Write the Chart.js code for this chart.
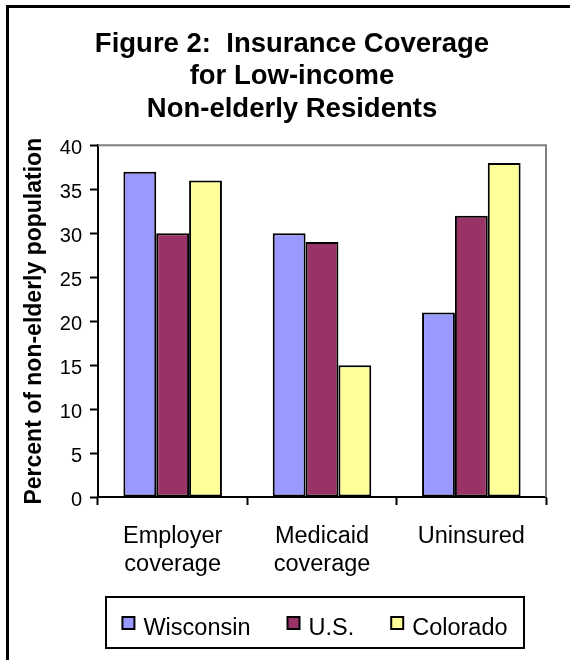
<!DOCTYPE html>
<html>
<head>
<meta charset="utf-8">
<script src="https://cdn.jsdelivr.net/npm/chart.js@4/dist/chart.umd.min.js"></script>
<style>
  html, body { margin: 0; padding: 0; background: #fff; overflow: hidden; }
  canvas { display: block; }
</style>
</head>
<body>
<canvas id="chart" width="570" height="660"></canvas>
<script>
// data
const categories = [['Employer', 'coverage'], ['Medicaid', 'coverage'], 'Uninsured'];
const seriesNames = ['Wisconsin', 'U.S.', 'Colorado'];
const wisconsin = [37, 30, 21];
const us = [30, 29, 32];
const colorado = [36, 15, 38];
const colors = ['#9999FF', '#993366', '#FFFF99'];
const titleLines = ['Figure 2:  Insurance Coverage', 'for Low-income', 'Non-elderly Residents'];

const FONT = 'Arial, "Liberation Sans", sans-serif';

// frame round the picture (only left/top show), gray top/right of plot, legend box
const framePlugin = {
    id: 'frame',
    beforeDraw(chart) {
        const ctx = chart.ctx;
        ctx.save();
        ctx.fillStyle = '#fff';
        ctx.fillRect(0, 0, chart.width, chart.height);
        ctx.strokeStyle = '#000';
        ctx.lineWidth = 3;
        ctx.beginPath();
        ctx.moveTo(7.5, chart.height + 5);
        ctx.lineTo(7.5, 6.5);
        ctx.lineTo(chart.width + 5, 6.5);
        ctx.stroke();
        ctx.restore();
    },
    afterDatasetsDraw(chart) {
        const {ctx, chartArea} = chart;
        ctx.save();
        ctx.strokeStyle = '#808080';
        ctx.lineWidth = 2;
        ctx.beginPath();
        ctx.moveTo(chartArea.left, chartArea.top);
        ctx.lineTo(chartArea.right, chartArea.top);
        ctx.lineTo(chartArea.right, chartArea.bottom);
        ctx.stroke();
        ctx.restore();
    },
    afterDraw(chart) {
        // legend in a box under the plot
        const ctx = chart.ctx;
        const box = {x: 106, y: 597, w: 418, h: 51};
        ctx.save();
        ctx.strokeStyle = '#000';
        ctx.lineWidth = 2;
        ctx.strokeRect(box.x, box.y, box.w, box.h);
        ctx.font = '23.5px ' + FONT;
        ctx.textBaseline = 'alphabetic';
        const sq = 12, gap = 9, spacing = 37;
        const widths = chart.data.datasets.map(d => sq + gap + ctx.measureText(d.label).width);
        const total = widths.reduce((a, b) => a + b, 0) + spacing * (widths.length - 1);
        let x = box.x + (box.w - total) / 2;
        chart.data.datasets.forEach((d, i) => {
            ctx.fillStyle = d.backgroundColor;
            ctx.fillRect(x, 617, sq, sq);
            ctx.strokeStyle = '#000';
            ctx.lineWidth = 2;
            ctx.strokeRect(x, 617, sq, sq);
            ctx.fillStyle = '#000';
            ctx.fillText(d.label, x + sq + gap, 634.5);
            x += widths[i] + spacing;
        });
        ctx.restore();
    }
};

new Chart(document.getElementById('chart'), {
    type: 'bar',
    data: {
        labels: categories,
        datasets: [
            {label: seriesNames[0], data: wisconsin, backgroundColor: colors[0]},
            {label: seriesNames[1], data: us, backgroundColor: colors[1]},
            {label: seriesNames[2], data: colorado, backgroundColor: colors[2]},
        ].map(d => Object.assign(d, {
            borderColor: '#000',
            borderWidth: 2,
            borderSkipped: false,
            categoryPercentage: 0.66,
            barPercentage: 1.0,
        })),
    },
    options: {
        responsive: false,
        devicePixelRatio: 1,
        animation: false,
        layout: {padding: {left: 38, right: 24, top: 0, bottom: 63}},
        plugins: {
            legend: {display: false},
            tooltip: {enabled: false},
            title: {
                display: true,
                text: titleLines,
                color: '#000',
                font: {family: FONT, size: 27.5, weight: 'bold', lineHeight: 1.18},
                padding: {top: 28, bottom: 20},
            },
        },
        scales: {
            x: {
                grid: {
                    display: true,
                    offset: true,
                    drawOnChartArea: false,
                    drawTicks: true,
                    tickLength: 8,
                    tickColor: '#000',
                    tickWidth: 2,
                },
                border: {display: true, color: '#000', width: 2},
                ticks: {
                    color: '#000',
                    font: {family: FONT, size: 23.5, lineHeight: 1.17},
                    padding: 18,
                    maxRotation: 0,
                },
                afterFit(scale) { scale.height = 100; },
            },
            y: {
                min: 0,
                max: 40,
                grid: {
                    display: true,
                    drawOnChartArea: false,
                    tickLength: 8,
                    tickColor: '#000',
                    tickWidth: 2,
                },
                border: {display: true, color: '#000', width: 2},
                ticks: {
                    stepSize: 5,
                    color: '#000',
                    font: {family: FONT, size: 20},
                    padding: 8,
                    labelOffset: 3,
                },
                title: {
                    display: true,
                    text: 'Percent of non-elderly population',
                    color: '#000',
                    font: {family: FONT, size: 23, weight: 'bold', lineHeight: 1.2},
                    padding: {top: -17, bottom: 0},
                },
                afterFit(scale) { scale.width = 60; },
            },
        },
    },
    plugins: [framePlugin],
});
</script>
</body>
</html>
